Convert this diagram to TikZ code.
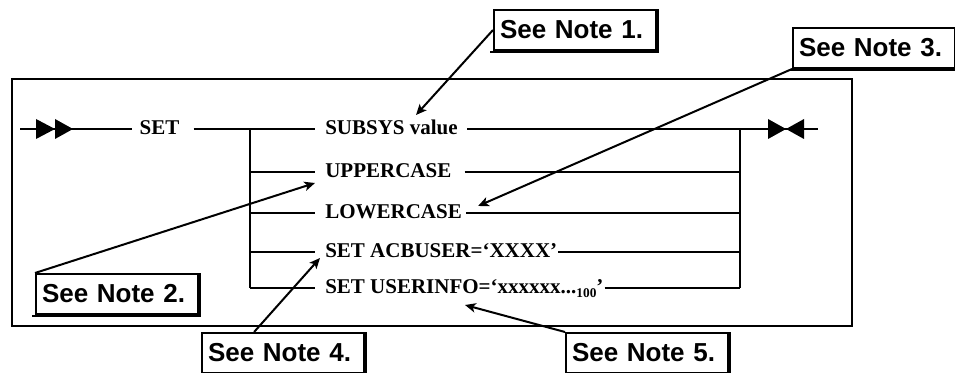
\documentclass[tikz,border=0pt]{standalone}
\usepackage{fontspec}
\setmainfont{Liberation Serif}
\newfontfamily\notefamily{Liberation Sans}
\usetikzlibrary{arrows.meta}
\tikzset{
  rail/.style={line width=2pt},
  frameline/.style={line width=1.5pt},
  syn/.style={font=\bfseries\fontsize{15.75pt}{18pt}\selectfont, inner sep=0pt,
    anchor=west, text height=8.25pt, text depth=0pt},
  notebox/.style={draw, line width=1.5pt,
    font=\notefamily\bfseries\fontsize{19.5pt}{22pt}\selectfont,
    text width=112.5pt, align=left, inner xsep=4.5pt, inner ysep=0pt,
    minimum height=30pt, anchor=north west},
  shadowline/.style={line width=1.2pt},
  notearrow/.style={line width=1.5pt, -{Stealth[length=8pt,width=7pt,inset=2pt]}},
  endmark/.style={fill=black}
}
\begin{document}
\begin{tikzpicture}[x=0.75pt,y=-0.75pt]
\useasboundingbox (0,0) rectangle (955,373);

% surrounding frame
\draw[frameline] (12,79) rectangle (852,326);

% rail junctions
\coordinate (in) at (20,129);
\coordinate (out) at (818,129);
\coordinate (lv) at (250,129);
\coordinate (rv) at (740,129);

% syntax words
\node[syn, anchor=center] (set) at (159.5,129) {SET};
\node[syn] (subsys) at (325,129) {SUBSYS value};
\node[syn] (upper) at (325,172) {UPPERCASE};
\node[syn] (lower) at (325,213) {LOWERCASE};
\node[syn] (acb) at (325,252) {SET ACBUSER=‘XXXX’};
\node[syn] (uinfo) at (325,288) {SET USERINFO=‘xxxxxx...\raisebox{-3pt}{\fontsize{10pt}{10pt}\selectfont 100}’};

% main rail
\draw[rail] (in) -- ([xshift=-5.25pt]set.west);
\draw[rail] ([xshift=10.5pt]set.east) -- ([xshift=-7.5pt]subsys.west);
\draw[rail] ([xshift=7pt]subsys.east) -- (out);

% branch rails
\draw[rail] (lv) -- (lv |- uinfo.west);
\draw[rail] (rv) -- (rv |- uinfo.west);
\foreach \n/\g in {upper/9.75pt, lower/3pt, acb/0.75pt, uinfo/0.75pt}{
  \draw[rail] (lv |- \n.west) -- ([xshift=-7.5pt]\n.west);
  \draw[rail] ([xshift=\g]\n.east) -- (rv |- \n.east);
}

% start and end marks
\fill[endmark] (36,119) -- (55,129) -- (36,139) -- cycle;
\fill[endmark] (55,119) -- (73,129) -- (55,139) -- cycle;
\fill[endmark] (768,119) -- (786,129) -- (768,139) -- cycle;
\fill[endmark] (804,119) -- (786,129) -- (804,139) -- cycle;

% note boxes
\node[notebox] (n1) at (493,9) {See Note 1.};
\node[notebox] (n2) at (35,273) {See Note 2.};
\node[notebox] (n3) at (792,27) {See Note 3.};
\node[notebox] (n4) at (201,332) {See Note 4.};
\node[notebox] (n5) at (565,332) {See Note 5.};
\foreach \n in {n1,n2,n3,n4,n5}{
  \draw[shadowline] ([shift={(-3,0.8)}]\n.south west) -- ([shift={(0.8,0.8)}]\n.south east)
    -- ([shift={(0.8,0)}]\n.north east);
}

% note pointers
\draw[notearrow] (n1.west) -- ([shift={(91,-14)}]subsys.west);
\draw[notearrow] (n2.north west) -- ([shift={(-10,11)}]upper.west);
\draw[notearrow] (n3.south west) -- ([shift={(16,-7)}]lower.east);
\draw[notearrow] (n4.144) -- ([shift={(-5,6)}]acb.west);
\draw[notearrow] (n5.north west) -- ([shift={(140,17)}]uinfo.west);
\end{tikzpicture}
\end{document}
